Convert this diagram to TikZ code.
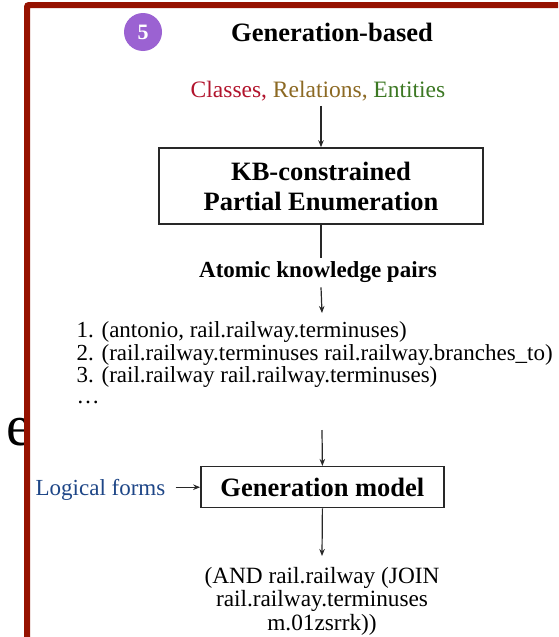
\documentclass[tikz,border=0pt]{standalone}
\usepackage{fontspec}
\setmainfont{Liberation Serif}
\usetikzlibrary{arrows.meta}

\definecolor{framered}{RGB}{150,18,0}
\definecolor{badge}{RGB}{155,98,210}
\definecolor{clsred}{RGB}{178,20,45}
\definecolor{relbrown}{RGB}{140,105,35}
\definecolor{entgreen}{RGB}{60,120,35}
\definecolor{lfblue}{RGB}{30,70,135}
\definecolor{ink}{RGB}{40,40,40}

\newcommand{\fsz}[2]{\fontsize{#1}{#2}\selectfont}

\begin{document}
\begin{tikzpicture}[x=1pt,y=-1pt,
  txt/.style={inner sep=0pt, anchor=base},
  boxnode/.style={draw=ink, line width=1.5pt, fill=white, inner sep=0pt,
    align=center, font=\fsz{26.5}{30}\bfseries},
  arr/.style={draw=ink, line width=1.2pt, -{Stealth[length=7pt,width=5.5pt]}},
  link/.style={draw=ink, line width=1.2pt}]
\useasboundingbox (0,0) rectangle (558,637);
\clip (0,0) rectangle (558,637);
\fill[white] (0,0) rectangle (558,637);

% letter of the neighbouring panel, partly hidden by this panel
\node[txt, anchor=base west] (stray) at (6,445) {\fsz{58}{60}e};

% panel frame
\draw[framered, line width=6pt, fill=white, rounded corners=2pt] (27,5) rectangle (620,700);

% header
\node[circle, fill=badge, minimum size=38pt, inner sep=0pt, text=white,
  font=\fsz{22}{22}\bfseries] (badge) at (143,32) {5};
\node[txt] (title) at (332,41) {\fsz{26.5}{30}\bfseries Generation-based};

% inputs
\node[txt] (kinds) at (318,97) {\fsz{23.5}{26}\textcolor{clsred}{Classes,}
  \textcolor{relbrown}{Relations,} \textcolor{entgreen}{Entities}};

% enumeration box
\node[boxnode, minimum width=324pt, minimum height=76pt] (kb) at (321,186)
  {KB-constrained\\Partial Enumeration};
\draw[arr] (kb.north |- kinds.south) ++(0,5) -- (kb.north);

% enumerated pairs
\node[txt] (pairs) at (318,277) {\fsz{23}{26}\bfseries Atomic knowledge pairs};
\draw[link, shorten >=3pt] (kb.south) -- (kb.south |- pairs.north);
\coordinate (listtop) at (322,313);
\draw[arr] (kb.south |- pairs.south) ++(0,5) -- (listtop);

\node[txt, anchor=base west] (p1) at (76.5,337) {\fsz{23}{23}1. (antonio, rail.railway.terminuses)};
\node[txt, anchor=base west] (p2) at (76.5,360) {\fsz{23}{23}2. (rail.railway.terminuses rail.railway.branches\_to)};
\node[txt, anchor=base west] (p3) at (76.5,382) {\fsz{23}{23}3. (rail.railway rail.railway.terminuses)};
\node[txt, anchor=base west] (p4) at (76.5,403) {\fsz{23}{23}…};

% generation model
\node[boxnode, minimum width=243pt, minimum height=41pt] (gen) at (322.4,487.2)
  {Generation model};
\coordinate (listbottom) at (322,430);
\draw[arr] (listbottom) -- (gen.north);

\node[txt, anchor=base east] (lf) at (165.5,495) {\fsz{23}{26}\color{lfblue}Logical forms};
\draw[arr] (lf.east |- gen.west) ++(10,0) -- (gen.west);

% output logical form
\coordinate (outtop) at (322,556);
\draw[arr] (gen.south) -- (outtop);
\node[inner sep=0pt, anchor=north, align=center, font=\fsz{23.3}{23.5}] (out) at (322,567)
  {(AND rail.railway (JOIN\\rail.railway.terminuses\\m.01zsrrk))};
\end{tikzpicture}
\end{document}
